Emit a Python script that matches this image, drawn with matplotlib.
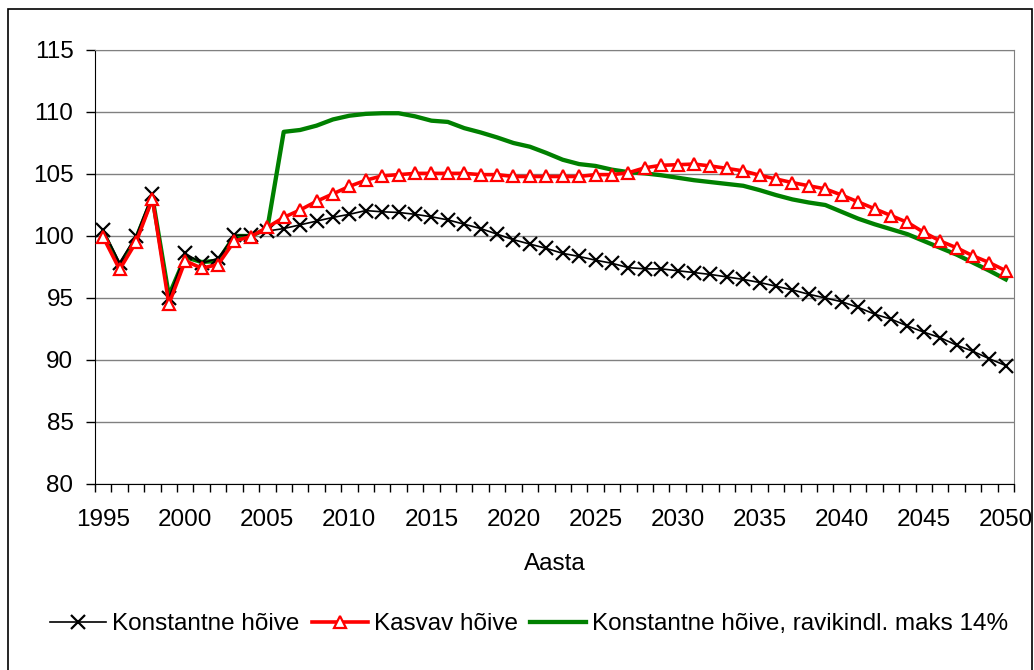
import matplotlib.pyplot as plt
from matplotlib.patches import Rectangle

plt.rcParams['font.family'] = ['Liberation Sans', 'DejaVu Sans']

# Data
years = list(range(1995, 2051))
konstantne = [100.5, 97.85, 100.0, 103.4, 95.0, 98.6, 97.8, 98.2, 100.05, 100.05,
              100.4, 100.6, 100.9, 101.2, 101.5, 101.75, 102.05, 101.95, 101.9, 101.75,
              101.55, 101.3, 100.95, 100.6, 100.15, 99.7, 99.35, 99.0, 98.6, 98.35,
              98.05, 97.8, 97.45, 97.35, 97.35, 97.2, 97.05, 96.9, 96.7, 96.5,
              96.25, 95.95, 95.65, 95.3, 95.0, 94.7, 94.25, 93.7, 93.3, 92.75,
              92.25, 91.8, 91.2, 90.7, 90.1, 89.55]
kasvav = [99.9, 97.3, 99.5, 103.0, 94.5, 98.0, 97.4, 97.7, 99.6, 99.95,
          100.7, 101.5, 102.1, 102.8, 103.4, 104.0, 104.5, 104.85, 104.95, 105.05,
          105.05, 105.05, 105.05, 104.95, 104.95, 104.8, 104.8, 104.8, 104.8, 104.8,
          104.95, 104.95, 105.1, 105.5, 105.7, 105.75, 105.8, 105.65, 105.45, 105.25,
          104.9, 104.6, 104.3, 104.05, 103.8, 103.3, 102.75, 102.2, 101.65, 101.1,
          100.3, 99.6, 99.05, 98.4, 97.85, 97.2]
ravikindl = [100.3, 97.6, 99.8, 103.1, 95.2, 98.3, 97.9, 98.0, 100.0, 100.0,
             100.6, 108.4, 108.55, 108.9, 109.4, 109.7, 109.85, 109.9, 109.9, 109.65,
             109.3, 109.2, 108.7, 108.35, 107.95, 107.5, 107.2, 106.7, 106.15, 105.8,
             105.65, 105.35, 105.15, 105.05, 104.9, 104.7, 104.5, 104.35, 104.2, 104.05,
             103.7, 103.3, 102.95, 102.7, 102.5, 101.95, 101.4, 100.95, 100.55, 100.15,
             99.6, 99.05, 98.5, 97.85, 97.2, 96.5]
labels = ['Konstantne hõive', 'Kasvav hõive', 'Konstantne hõive, ravikindl. maks 14%']

fs = 17.5

fig = plt.figure(figsize=(10.34, 6.70), dpi=100)
ax = fig.add_axes([95 / 1034, 1 - 484 / 670, (1014 - 95) / 1034, (484 - 50) / 670])

ax.plot(years, konstantne, color='black', lw=1.2, marker='x', ms=9.5, mew=1.6,
        zorder=3, label=labels[0])
ax.plot(years, kasvav, color='#ff0000', lw=2.6, marker='^', ms=9, mew=1.6,
        mfc='white', mec='#ff0000', zorder=4, label=labels[1])
ax.plot(years, ravikindl, color='#008000', lw=3.1, zorder=2, label=labels[2])

ax.set_xlim(1994.5, 2050.5)
ax.set_ylim(80, 115)
ax.set_yticks(range(80, 116, 5))
ax.yaxis.grid(True, color='#808080', lw=1.0)
ax.set_axisbelow(True)

ax.set_xticks(range(1995, 2051, 5))
ax.set_xticks([y - 0.5 for y in range(1995, 2052)], minor=True)
ax.tick_params(axis='x', which='major', length=0, pad=18, labelsize=fs)
ax.tick_params(axis='x', which='minor', length=6, width=1, direction='out')
ax.tick_params(axis='y', length=6.5, width=1, direction='out', pad=9, labelsize=fs)

for s in ['top', 'right']:
    ax.spines[s].set_color('#808080')
ax.spines['left'].set_color('black')
ax.spines['bottom'].set_color('black')

fig.text(555 / 1034, 1 - 564 / 670, 'Aasta', ha='center', va='center', fontsize=fs)

fig.legend(loc='center', bbox_to_anchor=(529 / 1034, 1 - 624 / 670), ncol=3,
           frameon=False, fontsize=fs, handlelength=2.3, handletextpad=0.25,
           columnspacing=0.5, numpoints=1)

fig.patches.append(Rectangle((8 / 1034, -0.01), (1032 - 8) / 1034, 1.01 - 9 / 670,
                             transform=fig.transFigure, fill=False, ec='black', lw=1.2))

fig.savefig('out.png', dpi=100)
